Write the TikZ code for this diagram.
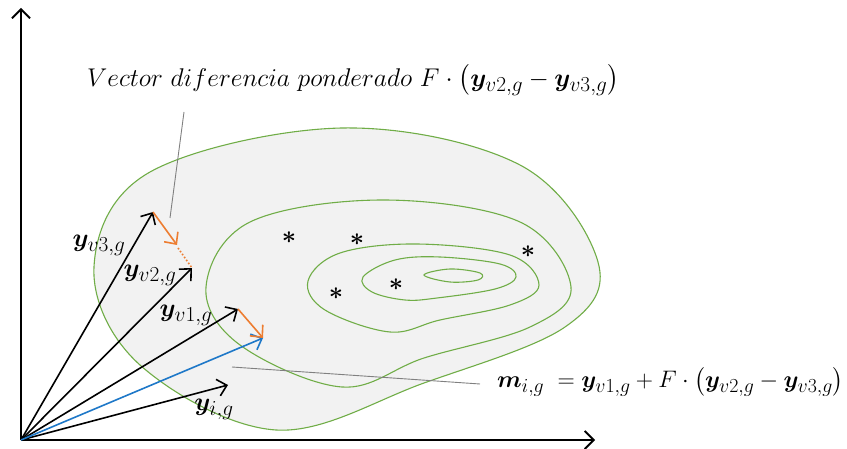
\documentclass[tikz,border=0pt]{standalone}
\usepackage{amsmath,bm}
\usetikzlibrary{arrows.meta}
\definecolor{cgreen}{RGB}{112,173,71}
\definecolor{corange}{RGB}{237,125,49}
\definecolor{cblue}{RGB}{30,120,200}
\definecolor{cfill}{RGB}{242,242,242}
\tikzset{
  vec/.style={line width=1.6pt,-{Straight Barb[length=9pt,width=17pt,line width=1.6pt]}},
  axis/.style={line width=2pt,-{Straight Barb[length=9pt,width=18pt,line width=1.8pt]}},
  contour/.style={cgreen,line width=1.1pt},
  leader/.style={gray,line width=0.9pt},
  lbl/.style={inner sep=1pt,font=\Huge,scale=1.03},
  eqn/.style={inner sep=1pt,font=\Huge,scale=0.96},
  star/.style={inner sep=0pt,font=\Huge}
}
\begin{document}
\begin{tikzpicture}[x=1pt,y=-1pt]
\useasboundingbox (0,0) rectangle (847,449);
% blob
\draw[contour,fill=cfill] plot[smooth cycle,tension=0.6] coordinates {
 (94,267) (150,172) (342,128) (520,165) (598,262) (565,327) (424,383) (276,430) (140,365)};
\draw[contour] plot[smooth cycle,tension=0.6] coordinates {
 (206,287) (250,222) (383,200) (520,222) (571,287) (530,327) (424,358) (342,387) (240,345)};
\draw[contour] plot[smooth cycle,tension=0.6] coordinates {
 (308,281) (340,253) (417,244) (510,255) (539,285) (510,305) (440,320) (390,332) (325,310)};
\draw[contour] plot[smooth cycle,tension=0.6] coordinates {
 (363,277) (395,260) (440,257) (500,264) (516,277) (495,289) (437,298) (405,300) (372,292)};
\draw[contour] plot[smooth cycle,tension=0.6] coordinates {
 (424,275) (450,269) (480,273) (478,280) (450,282)};
% stars
\node[star] (s1) at (289,238) {$\bm{\ast}$};
\node[star] (s2) at (357,240) {$\bm{\ast}$};
\node[star] (s3) at (528,252) {$\bm{\ast}$};
\node[star] (s4) at (336,294) {$\bm{\ast}$};
\node[star] (s5) at (396,285) {$\bm{\ast}$};
% axes
\coordinate (O) at (21,440);
\coordinate (ytop) at (21,8);
\coordinate (xend) at (595,440);
\draw[axis] (O) -- (ytop);
\draw[axis] (O) -- (xend);
% vectors
\coordinate (v3) at (153,212);
\coordinate (v2) at (192,268);
\coordinate (v1) at (238,309);
\coordinate (m) at (263,338);
\coordinate (yi) at (228,385);
\coordinate (d) at (177,245);
\draw[vec] (O) -- (v3);
\draw[vec] (O) -- (v2);
\draw[vec] (O) -- (v1);
\draw[vec] (O) -- (yi);
\draw[vec,cblue] (O) -- (m);
\draw[vec,corange] (v3) -- (d);
\draw[corange,line width=1.6pt,dotted] (d) ++(1,3) -- (v2);
\draw[vec,corange] (v1) -- (m);
% labels
\node[lbl] (l3) at (99,245) {$\bm{y}_{v3,g}$};
\node[lbl] (l2) at (150,275) {$\bm{y}_{v2,g}$};
\node[lbl] (l1) at (186,315) {$\bm{y}_{v1,g}$};
\node[lbl] (li) at (214,409) {$\bm{y}_{i,g}$};
% leaders and texts
\node[lbl,anchor=west] (top) at (86,80) {$Vector\ diferencia\ ponderado\ F\cdot\left(\bm{y}_{v2,g}-\bm{y}_{v3,g}\right)$};
\node[eqn,anchor=east] (bot) at (845,382) {$\bm{m}_{i,g}\;=\bm{y}_{v1,g}+F\cdot\left(\bm{y}_{v2,g}-\bm{y}_{v3,g}\right)$};
\coordinate (a1) at (184,112);
\coordinate (a2) at (170,218);
\coordinate (b1) at (480,384);
\coordinate (b2) at (232,367);
\draw[leader] (a1) -- (a2);
\draw[leader] (b1) -- (b2);
\end{tikzpicture}
\end{document}
